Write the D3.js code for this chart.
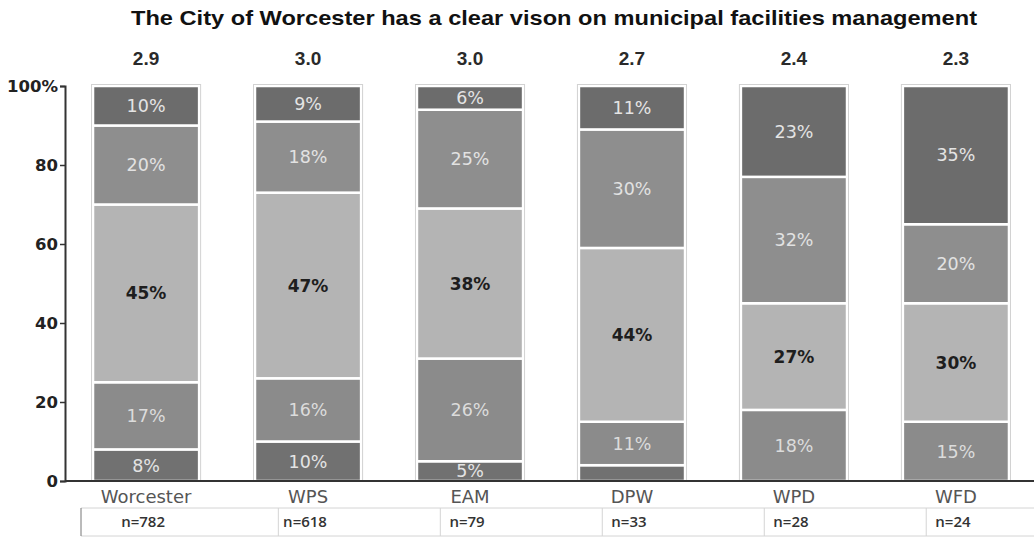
<!DOCTYPE html>
<html>
<head>
<meta charset="utf-8">
<script src="https://cdn.jsdelivr.net/npm/d3@7/dist/d3.min.js"></script>
<style>
  html, body { margin: 0; padding: 0; background: #fff; }
  svg { display: block; }
</style>
</head>
<body>
<svg id="chart" width="1034" height="537"></svg>
<script>
// ---- data ----
const categories = ["Worcester", "WPS", "EAM", "DPW", "WPD", "WFD"];
const means = ["2.9", "3.0", "3.0", "2.7", "2.4", "2.3"];
const sampleSizes = ["n=782", "n=618", "n=79", "n=33", "n=28", "n=24"];
// stacked segments, bottom to top
const stronglyDisagree = [8, 10, 5, 4, 0, 0];
const disagree = [17, 16, 26, 11, 18, 15];
const neutral = [45, 47, 38, 44, 27, 30];
const agree = [20, 18, 25, 30, 32, 20];
const stronglyAgree = [10, 9, 6, 11, 23, 35];
const yTicks = [0, 20, 40, 60, 80, 100];
const yTickLabels = ["0", "20", "40", "60", "80", "100%"];
const title = "The City of Worcester has a clear vison on municipal facilities management";

const seriesKeys = ["sd", "d", "n", "a", "sa"];
const seriesValues = [stronglyDisagree, disagree, neutral, agree, stronglyAgree];
const seriesColors = ["#717171", "#8b8b8b", "#b4b4b4", "#8e8e8e", "#6c6c6c"];
const labelColors = ["#e4e4e4", "#dcdcdc", "#1e1e1e", "#e2e2e2", "#e4e4e4"];

const rows = categories.map((c, i) => {
  const r = { cat: c };
  seriesKeys.forEach((k, j) => r[k] = seriesValues[j][i]);
  return r;
});

const svg = d3.select("#chart");
const axisX = 65, plotTop = 86, plotBottom = 481;

const x = d3.scaleBand().domain(categories)
  .range([axisX, 1037]).paddingInner(0.345).paddingOuter(0.173);
const y = d3.scaleLinear().domain([0, 100]).range([plotBottom, plotTop]);

// title
svg.append("text")
  .attr("x", 554).attr("y", 25)
  .attr("text-anchor", "middle")
  .attr("font-family", "Liberation Sans, Arial, sans-serif")
  .attr("font-weight", "bold").attr("font-size", 21)
  .attr("textLength", 846).attr("lengthAdjust", "spacingAndGlyphs")
  .attr("fill", "#111")
  .text(title);

// means
svg.selectAll("text.mean").data(categories).join("text")
  .attr("class", "mean")
  .attr("x", d => x(d) + x.bandwidth() / 2)
  .attr("y", 65)
  .attr("text-anchor", "middle")
  .attr("font-family", "Liberation Sans, Arial, sans-serif")
  .attr("font-weight", "bold").attr("font-size", 19)
  .attr("fill", "#2a2a2a")
  .text((d, i) => means[i]);

// stacked bars
const stack = d3.stack().keys(seriesKeys)(rows);
const layers = svg.append("g").selectAll("g.layer").data(stack).join("g")
  .attr("class", "layer")
  .attr("fill", (d, i) => seriesColors[i]);

layers.selectAll("rect").data(d => d).join("rect")
  .attr("x", d => x(d.data.cat))
  .attr("y", d => y(d[1]))
  .attr("width", x.bandwidth())
  .attr("height", d => Math.max(0, y(d[0]) - y(d[1])))
  .attr("stroke", "#fff").attr("stroke-width", 2.5);

// bar outlines
svg.append("g").selectAll("rect").data(categories).join("rect")
  .attr("x", d => x(d) - 1.5)
  .attr("y", y(100) - 1.5)
  .attr("width", x.bandwidth() + 3)
  .attr("height", y(0) - y(100) + 1.5)
  .attr("fill", "none").attr("stroke", "#d2d2d2").attr("stroke-width", 1);

// segment labels
stack.forEach((layer, li) => {
  svg.append("g").selectAll("text").data(layer.filter(d => (d[1] - d[0]) >= 5)).join("text")
    .attr("x", d => x(d.data.cat) + x.bandwidth() / 2)
    .attr("y", d => (y(d[0]) + y(d[1])) / 2)
    .attr("dy", "0.36em")
    .attr("text-anchor", "middle")
    .attr("font-family", "DejaVu Sans, Verdana, sans-serif")
    .attr("font-size", li === 2 ? 17 : 17.5)
    .attr("font-weight", li === 2 ? "bold" : "normal")
    .attr("fill", labelColors[li])
    .text(d => (d[1] - d[0]) + "%");
});

// y axis
const yAxis = d3.axisLeft(y).tickValues(yTicks)
  .tickFormat((d, i) => yTickLabels[i]).tickSize(5).tickPadding(2);
const gy = svg.append("g").attr("transform", `translate(${axisX},0)`).call(yAxis);
gy.select(".domain").attr("stroke", "#333").attr("stroke-width", 2);
gy.selectAll(".tick line").attr("stroke", "#333").attr("stroke-width", 1.5);
gy.selectAll(".tick text")
  .attr("font-family", "DejaVu Sans, Verdana, sans-serif")
  .attr("font-weight", "bold").attr("font-size", 16.5).attr("fill", "#222");

// x axis
const xAxis = d3.axisBottom(x).tickSize(0).tickPadding(9);
const gx = svg.append("g").attr("transform", `translate(0,${plotBottom})`).call(xAxis);
gx.select(".domain").attr("d", `M${axisX},0H1034`).attr("stroke", "#333").attr("stroke-width", 2);
gx.selectAll(".tick text")
  .attr("font-family", "DejaVu Sans, Verdana, sans-serif")
  .attr("font-size", 18).attr("fill", "#555");

// n table
const tableTop = 508, tableBottom = 536;
const cellStarts = categories.map((c, i) => i === 0 ? axisX + 16 : x(c) + x.bandwidth() * 0.22);
const tg = svg.append("g");
tg.append("line").attr("x1", cellStarts[0]).attr("x2", 1034)
  .attr("y1", tableTop).attr("y2", tableTop).attr("stroke", "#d4d4d4");
tg.append("line").attr("x1", cellStarts[0]).attr("x2", 1034)
  .attr("y1", tableBottom).attr("y2", tableBottom).attr("stroke", "#d4d4d4");
tg.selectAll("line.v").data(cellStarts).join("line")
  .attr("class", "v")
  .attr("x1", d => d).attr("x2", d => d)
  .attr("y1", tableTop).attr("y2", tableBottom)
  .attr("stroke", (d, i) => i === 0 ? "#777" : "#d4d4d4");
tg.selectAll("text").data(categories).join("text")
  .attr("x", d => x(d) + x.bandwidth() / 2 - 3)
  .attr("y", 522)
  .attr("dy", "0.35em")
  .attr("text-anchor", "middle")
  .attr("font-family", "Open Sans, sans-serif")
  .attr("font-weight", 600).attr("font-size", 15)
  .attr("fill", "#333")
  .text((d, i) => sampleSizes[i]);
</script>
</body>
</html>
